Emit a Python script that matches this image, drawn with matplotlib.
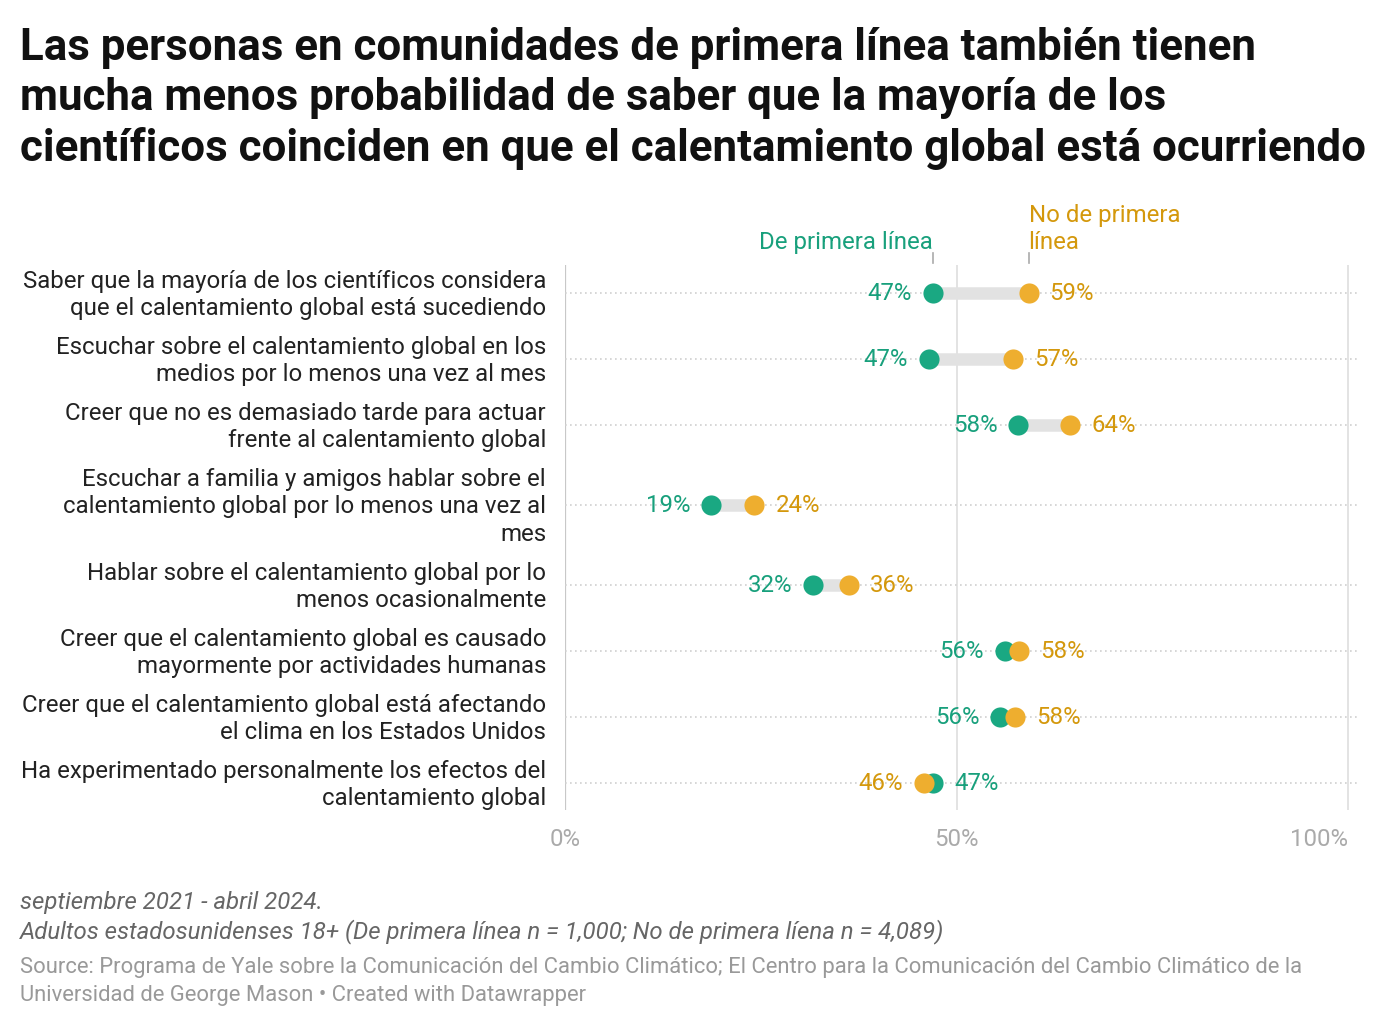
import matplotlib
matplotlib.use("Agg")
import matplotlib.pyplot as plt

plt.rcParams['font.family'] = ['Roboto', 'DejaVu Sans']

categories = [
    "Saber que la mayoría de los científicos considera\nque el calentamiento global está sucediendo",
    "Escuchar sobre el calentamiento global en los\nmedios por lo menos una vez al mes",
    "Creer que no es demasiado tarde para actuar\nfrente al calentamiento global",
    "Escuchar a familia y amigos hablar sobre el\ncalentamiento global por lo menos una vez al\nmes",
    "Hablar sobre el calentamiento global por lo\nmenos ocasionalmente",
    "Creer que el calentamiento global es causado\nmayormente por actividades humanas",
    "Creer que el calentamiento global está afectando\nel clima en los Estados Unidos",
    "Ha experimentado personalmente los efectos del\ncalentamiento global",
]
frontline = [47.0, 46.5, 57.9, 18.7, 31.7, 56.2, 55.6, 47.0]
non_frontline = [59.2, 57.2, 64.5, 24.2, 36.3, 58.0, 57.5, 45.8]
frontline_labels = ["47%", "47%", "58%", "19%", "32%", "56%", "56%", "47%"]
non_frontline_labels = ["59%", "57%", "64%", "24%", "36%", "58%", "58%", "46%"]
xticks = [0, 50, 100]
xtick_labels = ["0%", "50%", "100%"]

GREEN = "#1aa882"
GREEN_T = "#18a07c"
ORANGE = "#eeae2f"
ORANGE_T = "#d4980c"

FS = 17.3

W, H = 1400, 1026
fig = plt.figure(figsize=(W / 100, H / 100), dpi=100)

def fx(x):
    return x / W

def fy(y):
    return 1 - y / H

ax_left, ax_right, ax_top, ax_bot = 565, 1358, 265, 810
ax = fig.add_axes([fx(ax_left), fy(ax_bot), fx(ax_right - ax_left), (ax_bot - ax_top) / H])
xmax = 100 * (ax_right - ax_left) / (1348 - ax_left)
ax.set_xlim(0, xmax)

# row layout from label line counts
heights = [66 if c.count("\n") == 1 else 94 for c in categories]
centers = []
pos = 28
for i, h in enumerate(heights):
    if i > 0:
        pos += (heights[i - 1] + h) / 2
    centers.append(pos)
ax.set_ylim(ax_bot - ax_top, 0)

for s in ax.spines.values():
    s.set_visible(False)
ax.set_xticks([])
ax.set_yticks([])

# gridlines
ax.axvline(0, color="#c8c8c8", lw=1.6, zorder=0)
for xv in xticks[1:]:
    ax.axvline(xv, color="#e3e3e3", lw=1.4, zorder=0)
for c in centers:
    ax.hlines(c, 0, xmax, colors="#d0d0d0", lw=1.2, linestyles=(0, (1, 2)), zorder=0)

for i, c in enumerate(centers):
    g, o = frontline[i], non_frontline[i]
    ax.plot([g, o], [c, c], color="#e2e2e2", lw=9, solid_capstyle="butt", zorder=1)
    ax.plot(g, c, "o", ms=14.5, color=GREEN, mec="none", zorder=2)
    ax.plot(o, c, "o", ms=14.5, color=ORANGE, mec="none", zorder=3)
    if g <= o:
        gha, gsign, oha, osign = "right", -1, "left", 1
    else:
        gha, gsign, oha, osign = "left", 1, "right", -1
    ax.annotate(frontline_labels[i], (g, c), xytext=(gsign * 21, -1), textcoords="offset pixels",
                ha=gha, va="center", fontsize=FS, color=GREEN_T)
    ax.annotate(non_frontline_labels[i], (o, c), xytext=(osign * 21, -1), textcoords="offset pixels",
                ha=oha, va="center", fontsize=FS, color=ORANGE_T)
    ax.annotate(categories[i], (0, c), xycoords=("axes fraction", "data"), xytext=(-19, -2),
                textcoords="offset pixels", ha="right", va="center", fontsize=FS,
                color="#222222", linespacing=1.27)

# x tick labels
for xv, lab in zip(xticks, xtick_labels):
    ha = "center" if xv < 100 else "right"
    ax.annotate(lab, (xv, 0), xycoords=("data", "axes fraction"), xytext=(0, -29),
                textcoords="offset pixels", ha=ha, va="center", fontsize=FS, color="#aaaaaa",
                annotation_clip=False)

# legend labels above first row
ax.plot([frontline[0], frontline[0]], [-12, -2], color="#aaaaaa", lw=1.2, clip_on=False)
ax.plot([non_frontline[0], non_frontline[0]], [-12, -2], color="#aaaaaa", lw=1.2, clip_on=False)
ax.annotate("De primera línea", (frontline[0], 0), xytext=(0, 22), textcoords="offset pixels",
            ha="right", va="center", fontsize=FS, color=GREEN_T, annotation_clip=False)
ax.annotate("No de primera\nlínea", (non_frontline[0], 0), xytext=(0, 36), textcoords="offset pixels",
            ha="left", va="center", fontsize=FS, color=ORANGE_T, linespacing=1.27,
            annotation_clip=False)

# title
fig.text(fx(20), fy(27), "Las personas en comunidades de primera línea también tienen\n"
         "mucha menos probabilidad de saber que la mayoría de los\n"
         "científicos coinciden en que el calentamiento global está ocurriendo",
         ha="left", va="top", fontsize=31.6, fontweight="bold", color="#111111", linespacing=1.236)

# notes
fig.text(fx(20), fy(903), "septiembre 2021 - abril 2024.", ha="left", va="center",
         fontsize=FS, style="italic", color="#666666")
fig.text(fx(20), fy(932), "Adultos estadosunidenses 18+ (De primera línea n = 1,000; No de primera líena n = 4,089)",
         ha="left", va="center", fontsize=FS, style="italic", color="#666666")
fig.text(fx(20), fy(968), "Source: Programa de Yale sobre la Comunicación del Cambio Climático; El Centro para la Comunicación del Cambio Climático de la",
         ha="left", va="center", fontsize=15.8, color="#999999")
fig.text(fx(20), fy(995), "Universidad de George Mason • Created with Datawrapper",
         ha="left", va="center", fontsize=15.8, color="#999999")

fig.savefig("out.png", dpi=100, facecolor="white")
